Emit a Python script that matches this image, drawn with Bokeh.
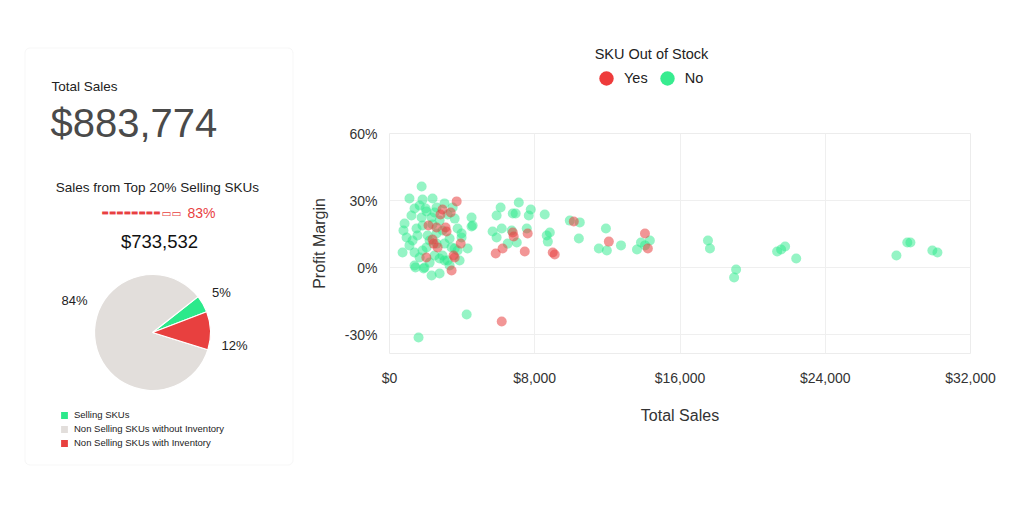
from bokeh.plotting import figure
from bokeh.layouts import row, column
from bokeh.models import (Range1d, FixedTicker, NumeralTickFormatter, PrintfTickFormatter,
                          BoxAnnotation, Legend, LegendItem, ColumnDataSource)
from bokeh.core.properties import value
from bokeh.embed import file_html
from bokeh.resources import INLINE
import math

# ---------------- data ----------------
total_sales = 883774
top_sales = 733532
top_share_pct = 83

pie_categories = ["Selling SKUs", "Non Selling SKUs without Inventory", "Non Selling SKUs with Inventory"]
pie_shares = [4.8, 84.6, 10.6]
pie_labels = ["5%", "84%", "12%"]

legend_title = "SKU Out of Stock"
legend_labels = ["Yes", "No"]

x_ticks = [0, 8000, 16000, 24000, 32000]
y_ticks = [-30, 0, 30, 60]

# SKU not out of stock (green)
green_sales = [1770, 1100, 1820, 2370, 1380, 1990, 2590, 3030, 3480, 1770, 2320, 4520, 4580, 830,
               1490, 1820, 2590, 2920, 3750, 3970, 940, 720, 1380, 1100, 1820, 2590, 3030, 3420,
               4300, 1660, 2210, 2760, 3030, 3860, 1380, 1930, 2320, 2760, 3310, 1270, 2040, 3590,
               3970, 4520, 2210, 2040, 2480, 2100, 1540, 1210, 3200, 3590, 2760, 3310, 3750, 2480,
               1880, 1430, 2920, 2370, 1660, 770, 3200, 4250, 1600,
               6120, 5900, 7120, 6790, 6950, 7780, 7670, 8550, 5680, 5900, 6180, 6730, 7560, 6510,
               7010, 8660, 8830, 8720, 9930, 10480, 10430, 11920, 11530, 11970, 12750, 13630, 13850,
               14340, 14070,
               17540, 17650, 19090, 18980, 21350, 21570, 21790, 22400, 27920, 28520, 28690, 29900, 30180]
green_margin = [36.3, 30.9, 30.4, 30.9, 26.4, 26.4, 26.9, 28.7, 26.9, 22.4, 22.4, 22.4, 18.8, 19.7,
                17.5, 18.8, 15.2, 16.6, 17.5, 15.2, 13.4, 6.7, 6.7, 9.9, 7.6, 10.7, 10.7, 9.0,
                8.5, 4.5, 2.2, 4.0, 3.1, 3.1, 0.9, 0.0, -3.6, -2.7, 0.9, 12.1, 9.0, 8.5,
                13.4, 18.4, 12.1, 25.1, 24.6, 14.3, 14.3, 23.3, 23.7, 21.9, 21.0, 13.0, 7.6, 5.4,
                -0.4, 0.0, 5.4, 19.3, 27.8, 16.6, 3.1, -21.0, -31.3,
                26.9, 23.3, 29.1, 24.2, 24.2, 26.0, 23.3, 23.7, 16.1, 13.4, 17.5, 16.6, 17.5, 10.7,
                11.2, 14.3, 15.7, 11.6, 21.0, 20.2, 13.0, 17.5, 8.5, 7.6, 9.9, 8.1, 11.2,
                12.1, 9.9,
                12.1, 8.5, -0.9, -4.5, 7.2, 8.1, 9.4, 4.0, 5.4, 11.2, 11.2, 7.6, 6.7]

# SKU out of stock (red)
red_sales = [3700, 2920, 3370, 2810, 2150, 2590, 3090, 3140, 2370, 2430, 2650, 3920, 3530, 3590,
             2030, 3420, 6180, 5850, 6230, 6790, 6840, 7610, 7450, 8990, 9100, 10150, 12080,
             14070, 14230]
red_margin = [29.6, 26.0, 24.6, 23.7, 18.8, 17.9, 17.9, 16.1, 12.5, 10.7, 9.0, 10.7, 5.4, 4.5,
              4.5, -1.3, -24.2, 6.3, 8.5, 15.7, 13.9, 15.2, 7.2, 6.7, 5.8, 20.6, 11.6,
              15.2, 8.5]

# ---------------- style ----------------
FONT_NAME = "Liberation Sans"
FONT = value(FONT_NAME)
GREEN = "#2ce98b"
RED = "#e8403f"
GREY = "#e2dedb"
TXT = "#222222"

# ---------------- left card ----------------
card = figure(width=300, height=512, x_range=Range1d(0, 300), y_range=Range1d(512, 0),
              x_axis_type=None, y_axis_type=None, output_backend="svg", toolbar_location=None,
              min_border=0, outline_line_color=None)
card.grid.visible = False
card.frame_align = False

card_box = BoxAnnotation(left=24.5, right=292.5, top=47.5, bottom=464.5,
                         fill_color="white", fill_alpha=1, line_color="#e2e2e2",
                         line_width=1, border_radius=5, level="underlay")
card.add_layout(card_box)

card.text(x=[51], y=[86], text=["Total Sales"], text_font=FONT, text_font_size="13.5px",
          text_baseline="middle", text_align="left", text_color=TXT)
card.text(x=[50], y=[122], text=[f"${total_sales:,}"], text_font=FONT, text_font_size="40px",
          text_baseline="middle", text_align="left", text_color="#4a4a4a")
card.text(x=[157], y=[187], text=["Sales from Top 20% Selling SKUs"], text_font=FONT,
          text_font_size="13.5px", text_baseline="middle", text_align="center", text_color=TXT)

n_filled = int(top_share_pct // 10)
card.text(x=[160], y=[212], text=["\u25ac" * n_filled], text_font=value("DejaVu Sans"),
          text_font_size="7.8px", text_baseline="middle", text_align="right", text_color=RED)
card.text(x=[161], y=[212], text=["\u25ad" * (10 - n_filled)], text_font=value("DejaVu Sans"),
          text_font_size="10.5px", text_baseline="middle", text_align="left", text_color=RED)
card.text(x=[187], y=[212], text=[f"{top_share_pct}%"], text_font=FONT, text_font_size="14px",
          text_baseline="middle", text_align="left", text_color=RED)
card.text(x=[159], y=[241], text=[f"${top_sales:,}"], text_font=FONT, text_font_size="18.5px",
          text_baseline="middle", text_align="center", text_color="#111111")

# pie
start_offset = math.radians(20.9)
tot = sum(pie_shares)
starts, ends = [], []
acc = start_offset
for s in pie_shares:
    starts.append(acc)
    acc += 2 * math.pi * s / tot
    ends.append(acc)
pie_src = ColumnDataSource(dict(cat=pie_categories, share=pie_shares, start=starts, end=ends,
                                color=[GREEN, GREY, RED]))
wr = card.wedge(x=152, y=332, radius=58, start_angle="start", end_angle="end",
                fill_color="color", line_color="white", line_width=1.2, source=pie_src)

label_pos_x = [221, 74, 234]
label_pos_y = [292, 300, 345]
card.text(x=label_pos_x, y=label_pos_y, text=[pie_labels[0], pie_labels[1], pie_labels[2]],
          text_font=FONT, text_font_size="13px", text_baseline="middle", text_align="center",
          text_color=TXT)

pie_legend = Legend(items=[LegendItem(label=c, renderers=[wr], index=i) for i, c in enumerate(pie_categories)],
                    location=(59, 64), orientation="vertical", glyph_width=10, glyph_height=10,
                    label_height=10, label_width=10, spacing=3, padding=0, margin=0,
                    label_standoff=5, border_line_color=None, background_fill_alpha=0,
                    label_text_font=FONT_NAME, label_text_font_size="9.5px", label_text_color=TXT)
card.add_layout(pie_legend)

# ---------------- legend strip above scatter ----------------
lg = figure(width=724, height=100, x_range=Range1d(0, 724), y_range=Range1d(100, 0),
            x_axis_type=None, y_axis_type=None, output_backend="svg", toolbar_location=None,
            min_border=0, outline_line_color=None)
lg.grid.visible = False
lg.frame_align = False
lg.text(x=[351], y=[53], text=[legend_title], text_font=FONT, text_font_size="14.5px",
        text_baseline="middle", text_align="center", text_color=TXT)
# legend proxies (no data point is drawn: NaN)
r_yes = lg.scatter([math.nan], [math.nan], size=15, fill_color="#ee3b3b", line_color=None)
r_no = lg.scatter([math.nan], [math.nan], size=15, fill_color="#37ec8f", line_color=None)
top_legend = Legend(items=[LegendItem(label=legend_labels[0], renderers=[r_yes]),
                           LegendItem(label=legend_labels[1], renderers=[r_no])],
                    orientation="horizontal", location=(288, 3),
                    glyph_width=36, glyph_height=38, label_standoff=0, spacing=1,
                    padding=0, margin=0, border_line_color=None, background_fill_alpha=0,
                    label_text_font=FONT_NAME, label_text_font_size="14.5px", label_text_color=TXT)
lg.add_layout(top_legend)

# ---------------- scatter ----------------
p = figure(width=724, height=412, x_range=Range1d(0, 32000), y_range=Range1d(-38.5, 60),
           output_backend="svg", toolbar_location=None,
           min_border_left=89, min_border_right=54, min_border_top=33, min_border_bottom=159,
           outline_line_color="#ececec")
p.frame_align = False

p.scatter(green_sales, green_margin, size=10, fill_color=GREEN, fill_alpha=0.5, line_color=None)
p.scatter(red_sales, red_margin, size=10, fill_color=RED, fill_alpha=0.55, line_color=None)

p.xaxis.ticker = FixedTicker(ticks=x_ticks)
p.yaxis.ticker = FixedTicker(ticks=y_ticks)
p.xaxis.formatter = NumeralTickFormatter(format="$0,0")
p.yaxis.formatter = PrintfTickFormatter(format="%d%%")
for ax in (p.xaxis, p.yaxis):
    ax.axis_line_color = None
    ax.major_tick_line_color = None
    ax.minor_tick_line_color = None
    ax.major_tick_out = 0
    ax.major_tick_in = 0
    ax.major_label_text_font = FONT_NAME
    ax.major_label_text_font_size = "14px"
    ax.major_label_text_color = "#333333"
    ax.axis_label_text_font = FONT_NAME
    ax.axis_label_text_font_size = "16px"
    ax.axis_label_text_font_style = "normal"
    ax.axis_label_text_color = "#333333"
p.xaxis.axis_label = "Total Sales"
p.yaxis.axis_label = "Profit Margin"
p.xaxis.major_label_standoff = 16
p.yaxis.major_label_standoff = 12
p.xaxis.axis_label_standoff = 18
p.yaxis.axis_label_standoff = 14
p.grid.grid_line_color = "#efefef"

layout = row(card, column(lg, p, spacing=0), spacing=0)
open("out.html", "w").write(file_html(layout, INLINE))
